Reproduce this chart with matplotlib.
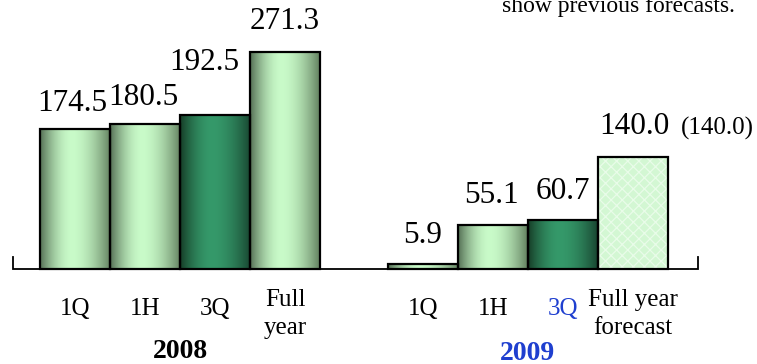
"""Ordinary income by period, FY2008 actuals vs FY2009 results and forecast."""

import numpy as np
import matplotlib
matplotlib.use("Agg")
import matplotlib.pyplot as plt
from matplotlib.colors import to_rgb

plt.rcParams["font.family"] = ["Liberation Serif", "DejaVu Serif"]

# --- data -------------------------------------------------------------
years = ["2008", "2009"]
labels_2008 = ["1Q", "1H", "3Q", "Full\nyear"]
labels_2009 = ["1Q", "1H", "3Q", "Full year\nforecast"]
values_2008 = [174.5, 180.5, 192.5, 271.3]
values_2009 = [5.9, 55.1, 60.7, 140.0]
previous_forecast = "(140.0)"
note_text = "show previous forecasts."

# --- layout -----------------------------------------------------------
PX_PER_UNIT = 0.801   # vertical pixels per value unit
BASE_PX = 269         # pixel row of the zero line
BAR_PX = 70           # bar width in pixels
X0_PX = 40            # left edge of the first bar
GROUP_GAP = 0.97      # gap between the two years, in bar widths

W, H = 757, 364
fig = plt.figure(figsize=(W / 100, H / 100), dpi=100)
ax = fig.add_axes([0, 0, 1, 1])
ax.set_axis_off()


def px_y(py):
    """Pixel row -> value units."""
    return (BASE_PX - py) / PX_PER_UNIT


def px_x(px):
    """Pixel column -> bar units."""
    return (px - X0_PX) / BAR_PX


def gradient(edge_l, centre, edge_r, n=120, c=0.45):
    t = np.linspace(0, 1, n)
    d = np.where(t < c, (c - t) / c, (t - c) / (1 - c))
    w = 1 - d ** 1.8
    e = np.where(t < c, 0, 1)[:, None]
    edge = (1 - e) * np.array(to_rgb(edge_l)) + e * np.array(to_rgb(edge_r))
    col = edge + (np.array(to_rgb(centre)) - edge) * w[:, None]
    return col[None, :, :]


fills = {
    "light": gradient("#557055", "#c9fbc9", "#62805f"),
    "dark": gradient("#163d27", "#35996a", "#184530"),
}

pos_2008 = np.arange(4, dtype=float)
pos_2009 = np.arange(4, dtype=float) + 4 + GROUP_GAP

styles_2008 = ["light", "light", "dark", "light"]
styles_2009 = ["light", "light", "dark", "hatch"]

plt.rcParams["hatch.linewidth"] = 0.9


def draw_bar(x, v, style):
    if style == "hatch":
        ax.bar(x, v, 1, align="edge", color="#d3f7d3", linewidth=0, zorder=1)
        ax.bar(x, v, 1, align="edge", facecolor="none", edgecolor="#e9fce9",
               hatch="xxx", linewidth=0, zorder=1.5)
    else:
        ax.imshow(fills[style], extent=(x, x + 1, 0, v), aspect="auto",
                  interpolation="bilinear", zorder=1)
    ax.bar(x, v, 1, align="edge", facecolor="none", edgecolor="black",
           linewidth=1.6, zorder=2)


for x, v, s in zip(pos_2008, values_2008, styles_2008):
    draw_bar(x, v, s)
for x, v, s in zip(pos_2009, values_2009, styles_2009):
    draw_bar(x, v, s)

# value labels (pixel offsets above the bar top)
dy_2008 = [26, 27, 52, 30]
dx_2008 = [-3, -2, -11, 0]
dy_2009 = [29, 29, 29, 30]
dx_2009 = [0, -1, 0, 1]
for xs, vals, dys, dxs in [(pos_2008, values_2008, dy_2008, dx_2008),
                           (pos_2009, values_2009, dy_2009, dx_2009)]:
    for x, v, dy, dx in zip(xs, vals, dys, dxs):
        ax.annotate(f"{v:.1f}", (x + 0.5, v), xytext=(dx * 0.72, dy * 0.72),
                    textcoords="offset points", ha="center", va="center",
                    fontsize=22.5)

ax.annotate(previous_forecast, (pos_2009[3] + 0.5, values_2009[3]),
            xytext=(84 * 0.72, 28 * 0.72), textcoords="offset points",
            ha="center", va="center", fontsize=18)

# zero line with end ticks
xl, xr = px_x(13), px_x(698)
tick = px_y(257)
ax.plot([xl, xl, xr, xr], [tick, 0, 0, tick], color="black", lw=1.3,
        zorder=3, solid_joinstyle="miter")

# category labels
blue = "#1f3fcf"
for x, lab in zip(pos_2008, labels_2008):
    two = "\n" in lab
    ax.text(x + 0.5, px_y(314 if two else 309), lab, ha="center", va="center",
            fontsize=18, linespacing=1.35)
for i, (x, lab) in enumerate(zip(pos_2009, labels_2009)):
    two = "\n" in lab
    ax.text(x + 0.5, px_y(314 if two else 309), lab, ha="center", va="center",
            fontsize=18, linespacing=1.35, color=blue if i == 2 else "black")

ax.text(px_x(180), px_y(351), years[0], ha="center", va="center",
        fontsize=20, fontweight="bold")
ax.text(px_x(527), px_y(354), years[1], ha="center", va="center",
        fontsize=20, fontweight="bold", color=blue)

ax.text(px_x(502), px_y(12), note_text, ha="left", va="baseline", fontsize=17)

ax.set_xlim(px_x(0), px_x(W))
ax.set_ylim(px_y(H), px_y(0))

fig.savefig("out.png", dpi=100)
